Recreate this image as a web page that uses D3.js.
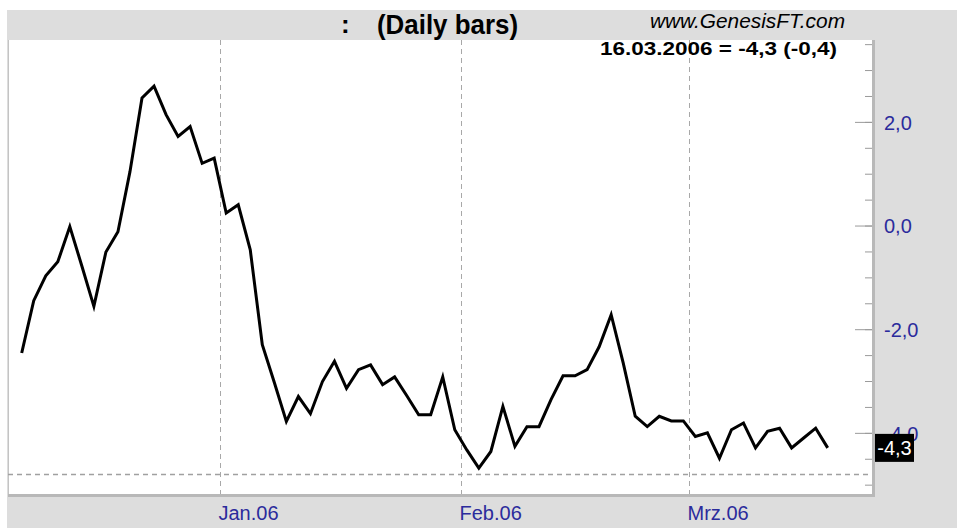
<!DOCTYPE html>
<html>
<head>
<meta charset="utf-8">
<script src="https://cdn.jsdelivr.net/npm/d3@7"></script>
<style>
  body { margin: 0; background: #fff; }
  svg { display: block; }
</style>
</head>
<body>
<svg id="chart"></svg>
<script>
// trading days shown (Dec 2005 - Mar 2006)
var dates = [
  "2005-12-07","2005-12-08","2005-12-09","2005-12-12","2005-12-13","2005-12-14","2005-12-15","2005-12-16",
  "2005-12-19","2005-12-20","2005-12-21","2005-12-22","2005-12-23","2005-12-27","2005-12-28","2005-12-29","2005-12-30",
  "2006-01-03","2006-01-04","2006-01-05","2006-01-06","2006-01-09","2006-01-10","2006-01-11","2006-01-12","2006-01-13",
  "2006-01-17","2006-01-18","2006-01-19","2006-01-20","2006-01-23","2006-01-24","2006-01-25","2006-01-26","2006-01-27",
  "2006-01-30","2006-01-31",
  "2006-02-01","2006-02-02","2006-02-03","2006-02-06","2006-02-07","2006-02-08","2006-02-09","2006-02-10",
  "2006-02-13","2006-02-14","2006-02-15","2006-02-16","2006-02-17","2006-02-21","2006-02-22","2006-02-23","2006-02-24",
  "2006-02-27","2006-02-28",
  "2006-03-01","2006-03-02","2006-03-03","2006-03-06","2006-03-07","2006-03-08","2006-03-09","2006-03-10",
  "2006-03-13","2006-03-14","2006-03-15","2006-03-16"
];

var values = [
  -2.46,-1.45,-0.97,-0.70,-0.02,-0.78,-1.56,-0.51,
  -0.12, 1.04, 2.46, 2.69, 2.14, 1.72, 1.91, 1.20, 1.30,
   0.24, 0.40,-0.47,-2.30,-3.03,-3.78,-3.30,-3.63,-3.01,
  -2.62,-3.14,-2.78,-2.69,-3.07,-2.92,-3.28,-3.65,-3.65,
  -2.92,-3.94,
  -4.33,-4.68,-4.36,-3.49,-4.26,-3.88,-3.88,-3.36,
  -2.90,-2.90,-2.78,-2.34,-1.72,-2.65,-3.68,-3.88,-3.68,
  -3.77,-3.77,
  -4.07,-4.00,-4.49,-3.94,-3.81,-4.29,-3.97,-3.91,
  -4.29,-4.10,-3.91,-4.29
];

var monthStarts = ["2006-01-03","2006-02-01","2006-03-01"];
var monthLabels = ["Jan.06","Feb.06","Mrz.06"];
var yLabelTicks = [-4, -2, 0, 2];
var yMinorTicks = [-5,-4.5,-4,-3.5,-3,-2.5,-2,-1.5,-1,-0.5,0,0.5,1,1.5,2,2.5,3,3.5];
var refLevel = -4.8;
var titleText = ":";
var subTitle = "(Daily bars)";
var siteText = "www.GenesisFT.com";
var lastInfo = "16.03.2006 = -4,3 (-0,4)";

var W = 957, H = 528;
var plot = { left: 8, top: 40, right: 872, bottom: 494 };
var blue = "#2b2b9c";

var svg = d3.select('#chart').attr('width', W).attr('height', H);

// page + panel backgrounds
svg.append('rect').attr('width', W).attr('height', H).attr('fill', '#fff');
svg.append('rect').attr('x', 7).attr('y', 10).attr('width', W - 7).attr('height', H - 10).attr('fill', '#dddddd');
svg.append('rect')
  .attr('x', plot.left).attr('y', plot.top)
  .attr('width', plot.right - plot.left).attr('height', plot.bottom - plot.top)
  .attr('fill', '#fff');
// 3d-ish frame
svg.append('line').attr('x1', plot.left + 0.5).attr('x2', plot.left + 0.5)
  .attr('y1', plot.top).attr('y2', plot.bottom).attr('stroke', '#c4c4c4');
svg.append('rect').attr('x', plot.right).attr('y', plot.top)
  .attr('width', 3).attr('height', plot.bottom - plot.top + 3).attr('fill', '#b8b8b8');
svg.append('rect').attr('x', plot.left).attr('y', plot.bottom)
  .attr('width', plot.right - plot.left + 3).attr('height', 3).attr('fill', '#b8b8b8');

var x = d3.scalePoint().domain(dates).range([21.7, 827.7]);
var y = d3.scaleLinear().domain([-5.18, 3.58]).range([plot.bottom, plot.top]);
var fmt = function(d){ return d3.format('.1f')(d).replace('.', ',').replace('\u2212', '-'); };

// month grid
monthStarts.forEach(function(d, i){
  var gx = Math.round(x(d) - x.step() / 2) + 0.5;
  svg.append('line')
    .attr('x1', gx).attr('x2', gx)
    .attr('y1', plot.top).attr('y2', plot.bottom)
    .attr('stroke', '#a8a8a8').attr('stroke-dasharray', '5,4');
  svg.append('text')
    .attr('x', gx - 2).attr('y', 520)
    .attr('font-family', 'Liberation Sans, Arial, sans-serif')
    .attr('font-size', 20).attr('fill', blue)
    .text(monthLabels[i]);
});

// reference dashed level
svg.append('line')
  .attr('x1', plot.left).attr('x2', plot.right)
  .attr('y1', Math.round(y(refLevel)) + 0.5).attr('y2', Math.round(y(refLevel)) + 0.5)
  .attr('stroke', '#a0a0a0').attr('stroke-width', 1.3).attr('stroke-dasharray', '5,4');

// right axis
var minor = d3.axisRight(y).tickValues(yMinorTicks).tickSize(-7).tickFormat('');
svg.append('g').attr('transform', 'translate(' + plot.right + ',0)').call(minor)
  .call(function(g){ g.select('.domain').remove(); g.selectAll('line').attr('stroke', '#9a9a9a'); });

var major = d3.axisRight(y).tickValues(yLabelTicks).tickSize(-17).tickPadding(12).tickFormat(fmt);
svg.append('g').attr('transform', 'translate(' + plot.right + ',0)').call(major)
  .call(function(g){
    g.select('.domain').remove();
    g.selectAll('line').attr('stroke', '#9a9a9a');
    g.selectAll('text')
      .attr('font-family', 'Liberation Sans, Arial, sans-serif')
      .attr('font-size', 20).attr('fill', blue).attr('dy', '0.36em');
  });

// the line
var line = d3.line()
  .x(function(d, i){ return x(dates[i]); })
  .y(function(d){ return y(d); });

svg.append('path')
  .datum(values)
  .attr('d', line)
  .attr('fill', 'none')
  .attr('stroke', '#000')
  .attr('stroke-width', 3)
  .attr('stroke-linejoin', 'miter');

// last value tag
var last = values[values.length - 1];
var ty = y(last);
svg.append('rect').attr('x', 875).attr('y', ty - 14).attr('width', 39).attr('height', 28).attr('fill', '#000');
svg.append('text')
  .attr('x', 894.5).attr('y', ty).attr('dy', '0.36em')
  .attr('text-anchor', 'middle')
  .attr('font-family', 'Liberation Sans, Arial, sans-serif')
  .attr('font-size', 20).attr('fill', '#fff')
  .text(fmt(last));

// headings
svg.append('text')
  .attr('x', 341).attr('y', 33)
  .attr('font-family', 'Liberation Sans, Arial, sans-serif')
  .attr('font-weight', 'bold').attr('font-size', 26)
  .text(titleText);
svg.append('text')
  .attr('x', 377).attr('y', 34)
  .attr('textLength', 141).attr('lengthAdjust', 'spacingAndGlyphs')
  .attr('font-family', 'Liberation Sans, Arial, sans-serif')
  .attr('font-weight', 'bold').attr('font-size', 28)
  .text(subTitle);
svg.append('text')
  .attr('x', 650).attr('y', 28)
  .attr('textLength', 195).attr('lengthAdjust', 'spacingAndGlyphs')
  .attr('font-family', 'Liberation Sans, Arial, sans-serif')
  .attr('font-style', 'italic').attr('font-size', 20)
  .text(siteText);
svg.append('text')
  .attr('x', 600).attr('y', 55)
  .attr('textLength', 237).attr('lengthAdjust', 'spacingAndGlyphs')
  .attr('font-family', 'Liberation Sans, Arial, sans-serif')
  .attr('font-weight', 'bold').attr('font-size', 18)
  .text(lastInfo);
</script>
</body>
</html>
